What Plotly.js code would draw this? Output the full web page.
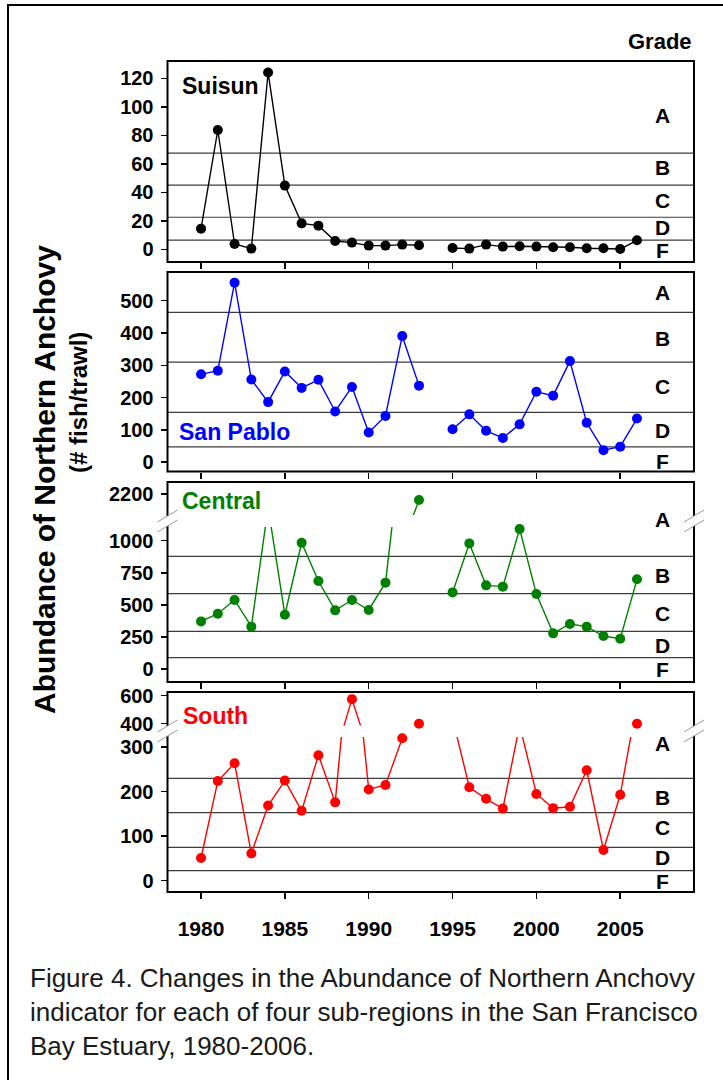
<!DOCTYPE html>
<html>
<head>
<meta charset="utf-8">
<script src="https://cdn.plot.ly/plotly-3.0.1.min.js"></script>
<style>
  html, body { margin: 0; padding: 0; background: #ffffff; }
  #chart { width: 723px; height: 1080px; }
</style>
</head>
<body>
<div id="chart"></div>
<script>
// Northern anchovy abundance (# fish/trawl) by sub-region, 1980-2006 (no survey in 1994)
const years = [1980, 1981, 1982, 1983, 1984, 1985, 1986, 1987, 1988, 1989, 1990, 1991, 1992, 1993,
               1994, 1995, 1996, 1997, 1998, 1999, 2000, 2001, 2002, 2003, 2004, 2005, 2006];

const suisun   = [14.5, 83.7, 3.7, 0.5, 124, 44.7, 18.2, 16.6, 5.8, 4.7, 2.6, 2.6, 3.3, 2.8,
                  null, 0.9, 0.5, 3.3, 1.9, 2.1, 1.9, 1.4, 1.4, 0.7, 0.7, 0.2, 6.3];
const sanPablo = [272, 283, 556, 256, 186, 281, 230, 255, 157, 233, 92, 143, 391, 237,
                  null, 102, 148, 97, 75, 117, 218, 206, 313, 122, 37, 48, 135];
const central  = [371, 431, 538, 330, 1260, 423, 984, 686, 457, 538, 460, 673, 1800, 2153,
                  null, 597, 979, 652, 642, 1091, 584, 278, 351, 330, 257, 236, 699];
const south    = [51, 224, 264, 61, 169, 225, 157, 282, 176, 575, 205, 215, 320, 400,
                  null, 365, 210, 184, 162, 350, 195, 163, 166, 248, 69, 193, 400];

// Grade boundaries (A/B, B/C, C/D, D/F) for each sub-region
const suisunGrades   = [67.5, 45, 22.5, 6.5];
const sanPabloGrades = [464, 310, 154, 47];
const centralGrades  = [878, 587, 293, 88];
const southGrades    = [230, 153, 75, 22.5];

const gradeLetters = ['A', 'B', 'C', 'D', 'F'];
const yearTicks = [1980, 1985, 1990, 1995, 2000, 2005];
const suisunTicks = [0, 20, 40, 60, 80, 100, 120];
const sanPabloTicks = [0, 100, 200, 300, 400, 500];
const centralLowTicks = [0, 250, 500, 750, 1000];
const centralHighTicks = [2200];
const southLowTicks = [0, 100, 200, 300];
const southHighTicks = [400, 600];

// ---- page geometry (pixels) ----
const W = 723, H = 1080;
const fx = p => p / W;
const fy = p => 1 - p / H;
const LEFT = 167.5, RIGHT = 694;
const XDOM = [fx(LEFT), fx(RIGHT)];
const FONT = 'Liberation Sans, Arial, Helvetica, sans-serif';

const panels = {
  suisun:   { top: 61,  bottom: 262 },
  sanPablo: { top: 272, bottom: 471.5 },
  centralHi:{ top: 482, bottom: 515 },
  centralLo:{ top: 527, bottom: 682 },
  southHi:  { top: 692, bottom: 725.5 },
  southLo:  { top: 737, bottom: 892 }
};
const dom = p => [fy(p.bottom), fy(p.top)];

function xAxis(anchor, showLabels) {
  return {
    domain: XDOM, anchor: anchor, range: [1978, 2009.4],
    tickvals: yearTicks, ticks: 'outside', ticklen: 6, tickwidth: 1.5, tickcolor: '#000',
    showticklabels: showLabels, showgrid: false, zeroline: false, showline: false,
    ticklabelstandoff: 12,
    tickfont: { family: FONT, size: 21, color: '#000', weight: 'bold' }
  };
}
function yAxis(anchor, domain, range, ticks) {
  return {
    domain: domain, anchor: anchor, range: range, tickvals: ticks,
    ticks: 'outside', ticklen: 6, tickwidth: 1.5, tickcolor: '#000',
    showgrid: false, zeroline: false, showline: false, ticklabelstandoff: 3,
    tickfont: { family: FONT, size: 20, color: '#000', weight: 'bold' }
  };
}

function series(values, color, xa, ya) {
  return {
    x: years, y: values, xaxis: xa, yaxis: ya, type: 'scatter', mode: 'lines+markers',
    connectgaps: false, cliponaxis: false, hoverinfo: 'skip',
    line: { color: color, width: 1.4 },
    marker: { color: color, size: 10 }
  };
}

const data = [
  series(suisun, '#000000', 'x', 'y'),
  series(sanPablo, '#0000ff', 'x2', 'y2'),
  series(central, '#008000', 'x3', 'y3'),
  series(central, '#008000', 'x3', 'y5'),
  series(south, '#ff0000', 'x4', 'y4'),
  series(south, '#ff0000', 'x4', 'y6')
];

const layout = {
  width: W, height: H,
  margin: { l: 0, r: 0, t: 0, b: 0 },
  paper_bgcolor: '#ffffff', plot_bgcolor: 'rgba(0,0,0,0)',
  showlegend: false,
  xaxis:  xAxis('y', false),
  xaxis2: xAxis('y2', false),
  xaxis3: xAxis('y3', false),
  xaxis4: xAxis('y4', true),
  yaxis:  yAxis('x',  dom(panels.suisun),   [-8.9, 132.1], suisunTicks),
  yaxis2: yAxis('x2', dom(panels.sanPablo), [-29, 589], sanPabloTicks),
  yaxis3: yAxis('x3', dom(panels.centralLo), [-101.3, 1106.8], centralLowTicks),
  yaxis4: yAxis('x4', dom(panels.southLo),  [-25.4, 322.9], southLowTicks),
  yaxis5: yAxis('x3', dom(panels.centralHi), [2036, 2294], centralHighTicks),
  yaxis6: yAxis('x4', dom(panels.southHi),  [387, 626], southHighTicks),
  shapes: [],
  annotations: []
};

// grade boundary lines
function gradeLines(bounds, yref) {
  bounds.forEach(v => layout.shapes.push({
    type: 'line', xref: 'paper', yref: yref, x0: XDOM[0], x1: XDOM[1], y0: v, y1: v,
    line: { color: '#3c3c3c', width: 1.2 }, layer: 'below'
  }));
}
gradeLines(suisunGrades, 'y');
gradeLines(sanPabloGrades, 'y2');
gradeLines(centralGrades, 'y3');
gradeLines(southGrades, 'y4');

// panel frames
function frame(top, bottom) {
  layout.shapes.push({
    type: 'rect', xref: 'paper', yref: 'paper',
    x0: XDOM[0], x1: XDOM[1], y0: fy(bottom), y1: fy(top),
    line: { color: '#000', width: 2 }, fillcolor: 'rgba(0,0,0,0)', layer: 'above'
  });
}
frame(panels.suisun.top, panels.suisun.bottom);
frame(panels.sanPablo.top, panels.sanPablo.bottom);
frame(panels.centralHi.top, panels.centralLo.bottom);
frame(panels.southHi.top, panels.southLo.bottom);

// axis-break marks on both side borders
function breakMark(xp, c) {
  const P = (x, y) => fx(x) + ',' + fy(y);
  layout.shapes.push({
    type: 'path', xref: 'paper', yref: 'paper', layer: 'above',
    path: 'M' + P(xp - 10, c + 1) + ' L' + P(xp + 10, c - 11) + ' L' + P(xp + 10, c - 1) +
          ' L' + P(xp - 10, c + 11) + ' Z',
    fillcolor: '#ffffff', line: { width: 0 }
  });
  [[c + 1, c - 11], [c + 11, c - 1]].forEach(([a, b]) => layout.shapes.push({
    type: 'line', xref: 'paper', yref: 'paper', layer: 'above',
    x0: fx(xp - 10), y0: fy(a), x1: fx(xp + 10), y1: fy(b),
    line: { color: '#9a9a9a', width: 1 }
  }));
}
breakMark(LEFT, 521);
breakMark(RIGHT, 521);
breakMark(LEFT, 731);
breakMark(RIGHT, 731);

// outer figure border
layout.shapes.push({
  type: 'rect', xref: 'paper', yref: 'paper', x0: fx(8), x1: fx(740), y0: fy(1100), y1: fy(5),
  line: { color: '#000', width: 2 }, fillcolor: 'rgba(0,0,0,0)', layer: 'above'
});

// text helpers
function note(text, x, y, opts) {
  layout.annotations.push(Object.assign({
    text: text, xref: 'paper', yref: 'paper', x: fx(x), y: fy(y), showarrow: false,
    xanchor: 'center', yanchor: 'middle',
    font: { family: FONT, size: 21, color: '#000', weight: 'bold' }
  }, opts || {}));
}
const gradeFont = { family: FONT, size: 21, color: '#000', weight: 'bold' };
function gradeText(letter, yref, value) {
  layout.annotations.push({
    text: letter, xref: 'paper', yref: yref, x: fx(662), y: value, showarrow: false,
    xanchor: 'center', yanchor: 'middle', font: gradeFont
  });
}

// grade letters placed inside each band
[94, 57.4, 33.9, 15.5, -1].forEach((v, i) => gradeText(gradeLetters[i], 'y', v));
[524, 384, 235, 98, 2].forEach((v, i) => gradeText(gradeLetters[i], 'y2', v));
note('A', 662, 520, { font: gradeFont });
[725, 429, 187, -2].forEach((v, i) => gradeText(gradeLetters[i + 1], 'y3', v));
[309, 188, 119, 52, -2].forEach((v, i) => gradeText(gradeLetters[i], 'y4', v));

note('Grade', 660, 41, { font: { family: FONT, size: 22, color: '#000', weight: 'bold' } });

// sub-region names
const nameFont = (c) => ({ family: FONT, size: 23, color: c, weight: 'bold' });
note('Suisun', 180, 86, { xanchor: 'left', font: nameFont('#000000') });
note('San Pablo', 177, 432, { xanchor: 'left', font: nameFont('#0000ff') });
note('Central', 180, 501, { xanchor: 'left', font: nameFont('#008000') });
note('South', 181, 716, { xanchor: 'left', font: nameFont('#ff0000') });

// shared y-axis title
note('Abundance of Northern Anchovy', 44, 480, { textangle: -90,
  font: { family: FONT, size: 30, color: '#000', weight: 'bold' } });
note('(# fish/trawl)', 78, 403, { textangle: -90,
  font: { family: FONT, size: 24, color: '#000', weight: 'bold' } });

// figure caption
const capFont = { family: FONT, size: 26, color: '#1a1a1a' };
note('Figure 4. Changes in the Abundance of Northern Anchovy', 28, 978, { xanchor: 'left', font: capFont });
note('indicator for each of four sub-regions in the San Francisco', 28, 1012, { xanchor: 'left', font: capFont });
note('Bay Estuary, 1980-2006.', 28, 1046, { xanchor: 'left', font: capFont });

Plotly.newPlot('chart', data, layout, { staticPlot: true, displayModeBar: false });
</script>
</body>
</html>
